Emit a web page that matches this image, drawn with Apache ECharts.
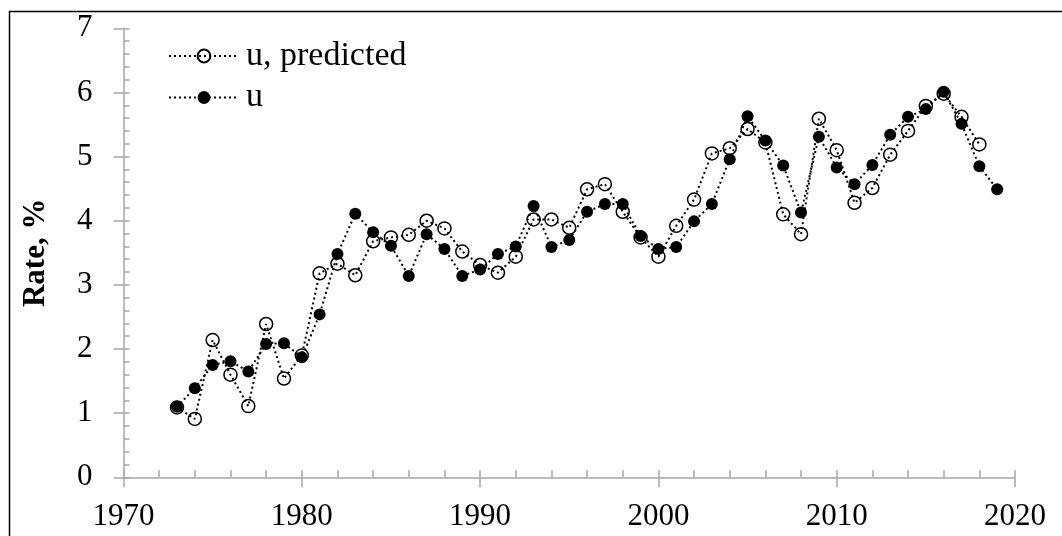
<!DOCTYPE html>
<html>
<head>
<meta charset="utf-8">
<script src="https://cdn.jsdelivr.net/npm/echarts@6/dist/echarts.min.js"></script>
<style>
html,body{margin:0;padding:0;background:#fff;}
#chart{width:1062px;height:536px;}
</style>
</head>
<body>
<div id="chart"></div>
<script>
const years = [1973,1974,1975,1976,1977,1978,1979,1980,1981,1982,1983,1984,1985,1986,1987,1988,1989,1990,1991,1992,1993,1994,1995,1996,1997,1998,1999,2000,2001,2002,2003,2004,2005,2006,2007,2008,2009,2010,2011,2012,2013,2014,2015,2016,2017,2018,2019];
const uActual = [1.10,1.39,1.75,1.81,1.65,2.08,2.09,1.87,2.54,3.48,4.11,3.82,3.61,3.14,3.79,3.56,3.14,3.24,3.48,3.60,4.23,3.59,3.70,4.14,4.26,4.26,3.76,3.56,3.59,3.99,4.26,4.96,5.63,5.25,4.86,4.13,5.31,4.83,4.57,4.87,5.34,5.62,5.74,6.01,5.51,4.85,4.49];
const uPredicted = [1.09,0.91,2.14,1.60,1.11,2.39,1.54,1.90,3.18,3.33,3.15,3.68,3.74,3.78,4.00,3.88,3.52,3.31,3.19,3.44,4.02,4.02,3.89,4.49,4.57,4.14,3.74,3.44,3.92,4.33,5.05,5.13,5.43,5.22,4.10,3.79,5.59,5.10,4.28,4.51,5.03,5.40,5.79,5.98,5.62,5.19,null];
const seriesNames = ['u, predicted', 'u'];
const yTitle = 'Rate, %';

const FONT = '"Liberation Serif", serif';
const GRAY = '#a6a6a6';

const chart = echarts.init(document.getElementById('chart'), null, {renderer:'canvas'});
const toPairs = vals => years.map((y,i) => [y, vals[i]]);

chart.setOption({
  animation: false,
  backgroundColor: '#fff',
  graphic: [{
    type: 'rect', left: 7, top: 9, z: 100, silent: true,
    shape: {x: 0, y: 0, width: 1200, height: 700},
    style: {fill: 'none', stroke: '#000', lineWidth: 1.5}
  }],
  grid: {left: 123.5, right: 47, top: 28.3, bottom: 58.7, containLabel: false},
  legend: {
    orient: 'vertical', left: 168, top: 39, padding: 0,
    itemWidth: 70, itemHeight: 16, itemGap: 7.5,
    textStyle: {fontFamily: FONT, fontSize: 34, color: '#000', padding: [0, 0, 0, 2]},
    data: seriesNames
  },
  xAxis: [{
    type: 'value', position: 'bottom', min: 1970, max: 2020, interval: 10,
    axisLine: {show: true, onZero: false, lineStyle: {color: GRAY, width: 1.5}},
    axisTick: {show: true, inside: false, length: 10, lineStyle: {color: GRAY, width: 1.5}},
    axisLabel: {fontFamily: FONT, fontSize: 31, color: '#000', margin: 24, formatter: v => String(v)},
    splitLine: {show: false}
  }, {
    type: 'value', position: 'bottom', min: 1970, max: 2020, interval: 10,
    axisLine: {show: false, onZero: false},
    axisTick: {show: true, inside: true, length: 7, lineStyle: {color: GRAY, width: 1.5}},
    minorTick: {show: true, splitNumber: 5, length: 7, lineStyle: {color: GRAY, width: 1.5}},
    axisLabel: {show: false},
    splitLine: {show: false}
  }],
  yAxis: [{
    type: 'value', position: 'left', min: 0, max: 7, interval: 1,
    name: yTitle, nameLocation: 'middle', nameGap: 72,
    nameTextStyle: {fontFamily: FONT, fontSize: 31, fontWeight: 'bold', color: '#000'},
    axisLine: {show: true, lineStyle: {color: GRAY, width: 1.5}},
    axisTick: {show: true, inside: false, length: 10, lineStyle: {color: GRAY, width: 1.5}},
    axisLabel: {fontFamily: FONT, fontSize: 31, color: '#000', margin: 31},
    splitLine: {show: false}
  }, {
    type: 'value', position: 'left', min: 0, max: 7, interval: 1,
    axisLine: {show: false},
    axisTick: {show: true, inside: true, length: 6, lineStyle: {color: GRAY, width: 1.5}},
    minorTick: {show: true, splitNumber: 5, length: 6, lineStyle: {color: GRAY, width: 1.5}},
    axisLabel: {show: false},
    splitLine: {show: false}
  }],
  series: [{
    name: seriesNames[0], type: 'line', xAxisIndex: 0, yAxisIndex: 0,
    data: toPairs(uPredicted), connectNulls: false,
    symbol: 'circle', symbolSize: 13,
    itemStyle: {color: 'rgba(255,255,255,0)', borderColor: '#000', borderWidth: 1.5},
    lineStyle: {color: '#000', width: 2, type: [2, 3]},
    z: 2
  }, {
    name: seriesNames[1], type: 'line', xAxisIndex: 0, yAxisIndex: 0,
    data: toPairs(uActual),
    symbol: 'circle', symbolSize: 12,
    itemStyle: {color: '#000', borderColor: '#000', borderWidth: 0},
    lineStyle: {color: '#000', width: 2, type: [2, 3]},
    z: 3
  }]
});
</script>
</body>
</html>
